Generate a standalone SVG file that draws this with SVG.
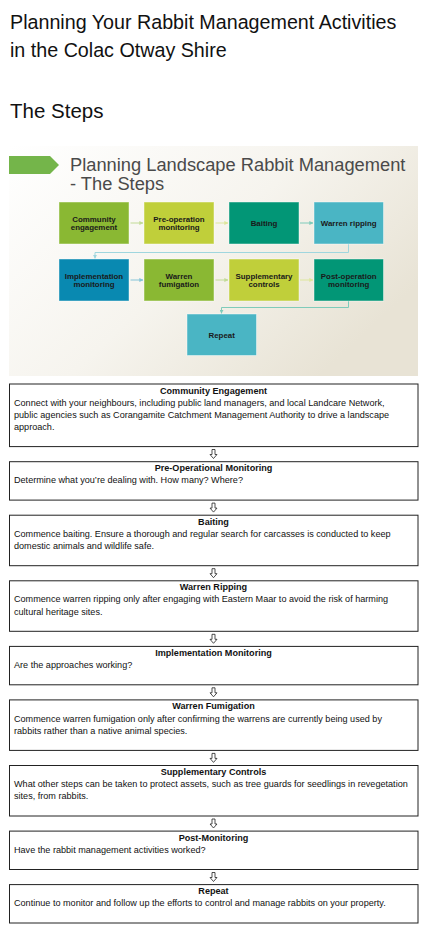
<svg xmlns="http://www.w3.org/2000/svg" xmlns:xlink="http://www.w3.org/1999/xlink" width="430" height="949" viewBox="0 0 430 949">
<style>
.h1{font-family:"Liberation Sans",Arial,sans-serif;font-size:19.7px;fill:#111}
.h2{font-family:"Liberation Sans",Arial,sans-serif;font-size:20.5px;fill:#111}
.st{font-family:"Liberation Sans",Arial,sans-serif;font-size:18.3px;fill:#4a4a4a}
.nl{font-family:"Liberation Sans",Arial,sans-serif;font-size:7.9px;font-weight:bold;fill:#1a1a1a;text-anchor:middle}
.bt{font-family:"Liberation Sans",Arial,sans-serif;font-size:9.1px;font-weight:bold;fill:#111;text-anchor:middle}
.bd{font-family:"Liberation Sans",Arial,sans-serif;font-size:9.1px;fill:#111}
.box{fill:#fff;stroke:#222;stroke-width:1}
.sb{stroke:#ffffff;stroke-opacity:0.45;stroke-width:1}
.cn{fill:none;stroke-width:1}
</style>
<defs>
<linearGradient id="bg" x1="0" y1="0" x2="1" y2="0.6">
<stop offset="0" stop-color="#ffffff"/>
<stop offset="0.55" stop-color="#f6f4ee"/>
<stop offset="1" stop-color="#e8e3d5"/>
</linearGradient>
<marker id="mg" viewBox="0 0 6 6" refX="5.5" refY="3" markerWidth="4" markerHeight="4" markerUnits="userSpaceOnUse" orient="auto"><path d="M0,0L6,3L0,6z" fill="#c2db96"/></marker>
<marker id="my" viewBox="0 0 6 6" refX="5.5" refY="3" markerWidth="4" markerHeight="4" markerUnits="userSpaceOnUse" orient="auto"><path d="M0,0L6,3L0,6z" fill="#dde69c"/></marker>
<marker id="mt" viewBox="0 0 6 6" refX="5.5" refY="3" markerWidth="4" markerHeight="4" markerUnits="userSpaceOnUse" orient="auto"><path d="M0,0L6,3L0,6z" fill="#7fcbba"/></marker>
<marker id="ml" viewBox="0 0 6 6" refX="5.5" refY="3" markerWidth="4" markerHeight="4" markerUnits="userSpaceOnUse" orient="auto"><path d="M0,0L6,3L0,6z" fill="#9fd6de"/></marker>
<marker id="mb" viewBox="0 0 6 6" refX="5.5" refY="3" markerWidth="4" markerHeight="4" markerUnits="userSpaceOnUse" orient="auto"><path d="M0,0L6,3L0,6z" fill="#84c4d8"/></marker>
<path id="darr" d="M-1.5,-4.5H1.5V0.5H3.5L0,4.5L-3.5,0.5H-1.5Z" fill="#fff" stroke="#222" stroke-width="0.8" stroke-linejoin="miter"/>
</defs>

<g id="heading">
<text class="h1" x="10" y="29">Planning Your Rabbit Management Activities</text>
<text class="h1" x="10" y="57">in the Colac Otway Shire</text>
<text class="h2" x="10" y="118">The Steps</text>
</g>

<g id="slide">
<rect x="9" y="146" width="409" height="230" fill="url(#bg)"/>
<polygon points="9,156 50,156 59,165 50,174 9,174" fill="#74b54a"/>
<text class="st" x="70" y="171">Planning Landscape Rabbit Management</text>
<text class="st" x="70" y="190">- The Steps</text>
</g>

<g id="slide-connectors">
<line class="cn" x1="130.5" y1="223" x2="143" y2="223" stroke="#c2db96" marker-end="url(#mg)"/>
<line class="cn" x1="215.5" y1="223" x2="228" y2="223" stroke="#dde69c" marker-end="url(#my)"/>
<line class="cn" x1="300" y1="223" x2="313" y2="223" stroke="#7fcbba" marker-end="url(#mt)"/>
<polyline class="cn" points="348.5,244 348.5,252.5 95,252.5 95,258.5" stroke="#9fd6de" marker-end="url(#ml)"/>
<line class="cn" x1="130.5" y1="280" x2="143" y2="280" stroke="#84c4d8" marker-end="url(#mb)"/>
<line class="cn" x1="215.5" y1="280" x2="228" y2="280" stroke="#c2db96" marker-end="url(#mg)"/>
<line class="cn" x1="300" y1="280" x2="313" y2="280" stroke="#dde69c" marker-end="url(#my)"/>
<polyline class="cn" points="348.5,301 348.5,307.5 221.5,307.5 221.5,313.5" stroke="#7fcbba" marker-end="url(#mt)"/>
</g>

<g id="s1"><rect class="sb" x="59" y="202" width="70" height="42" fill="#8ab833"/><text class="nl" x="94" y="221.5">Community</text><text class="nl" x="94" y="230.2">engagement</text></g>
<g id="s2"><rect class="sb" x="144" y="202" width="70" height="42" fill="#c0cf3a"/><text class="nl" x="179" y="221.5">Pre-operation</text><text class="nl" x="179" y="230.2">monitoring</text></g>
<g id="s3"><rect class="sb" x="229" y="202" width="70" height="42" fill="#029676"/><text class="nl" x="264" y="225.5">Baiting</text></g>
<g id="s4"><rect class="sb" x="314" y="202" width="69.5" height="42" fill="#4ab5c4"/><text class="nl" x="348.7" y="225.5">Warren ripping</text></g>
<g id="s5"><rect class="sb" x="59" y="259" width="70" height="42" fill="#0989b1"/><text class="nl" x="94" y="278.5">Implementation</text><text class="nl" x="94" y="287.2">monitoring</text></g>
<g id="s6"><rect class="sb" x="144" y="259" width="70" height="42" fill="#8ab833"/><text class="nl" x="179" y="278.5">Warren</text><text class="nl" x="179" y="287.2">fumigation</text></g>
<g id="s7"><rect class="sb" x="229" y="259" width="70" height="42" fill="#c0cf3a"/><text class="nl" x="264" y="278.5">Supplementary</text><text class="nl" x="264" y="287.2">controls</text></g>
<g id="s8"><rect class="sb" x="314" y="259" width="69.5" height="42" fill="#029676"/><text class="nl" x="348.7" y="278.5">Post-operation</text><text class="nl" x="348.7" y="287.2">monitoring</text></g>
<g id="s9"><rect class="sb" x="187" y="314" width="69.5" height="41.5" fill="#4ab5c4"/><text class="nl" x="221.7" y="337.5">Repeat</text></g>

<g id="connectors">
<use xlink:href="#darr" x="213.5" y="454"/>
<use xlink:href="#darr" x="213.5" y="507.6"/>
<use xlink:href="#darr" x="213.5" y="573.2"/>
<use xlink:href="#darr" x="213.5" y="638.8"/>
<use xlink:href="#darr" x="213.5" y="692.3"/>
<use xlink:href="#darr" x="213.5" y="757.9"/>
<use xlink:href="#darr" x="213.5" y="823.5"/>
<use xlink:href="#darr" x="213.5" y="877"/>
</g>

<g id="b1"><rect class="box" x="9.5" y="384" width="408.5" height="62.6"/>
<text class="bt" x="213.5" y="393.5">Community Engagement</text>
<text class="bd" x="14" y="405.6">Connect with your neighbours, including public land managers, and local Landcare Network,</text>
<text class="bd" x="14" y="417.7">public agencies such as Corangamite Catchment Management Authority to drive a landscape</text>
<text class="bd" x="14" y="429.9">approach.</text></g>

<g id="b2"><rect class="box" x="9.5" y="461.7" width="408.5" height="38.4"/>
<text class="bt" x="213.5" y="471.2">Pre-Operational Monitoring</text>
<text class="bd" x="14" y="483.3">Determine what you’re dealing with. How many? Where?</text></g>

<g id="b3"><rect class="box" x="9.5" y="515.2" width="408.5" height="50.5"/>
<text class="bt" x="213.5" y="524.7">Baiting</text>
<text class="bd" x="14" y="536.8">Commence baiting. Ensure a thorough and regular search for carcasses is conducted to keep</text>
<text class="bd" x="14" y="548.9">domestic animals and wildlife safe.</text></g>

<g id="b4"><rect class="box" x="9.5" y="580.8" width="408.5" height="50.5"/>
<text class="bt" x="213.5" y="590.3">Warren Ripping</text>
<text class="bd" x="14" y="602.4">Commence warren ripping only after engaging with Eastern Maar to avoid the risk of harming</text>
<text class="bd" x="14" y="614.5">cultural heritage sites.</text></g>

<g id="b5"><rect class="box" x="9.5" y="646.4" width="408.5" height="38.4"/>
<text class="bt" x="213.5" y="655.9">Implementation Monitoring</text>
<text class="bd" x="14" y="668">Are the approaches working?</text></g>

<g id="b6"><rect class="box" x="9.5" y="699.9" width="408.5" height="50.5"/>
<text class="bt" x="213.5" y="709.4">Warren Fumigation</text>
<text class="bd" x="14" y="721.5">Commence warren fumigation only after confirming the warrens are currently being used by</text>
<text class="bd" x="14" y="733.6">rabbits rather than a native animal species.</text></g>

<g id="b7"><rect class="box" x="9.5" y="765.5" width="408.5" height="50.5"/>
<text class="bt" x="213.5" y="775">Supplementary Controls</text>
<text class="bd" x="14" y="787.1">What other steps can be taken to protect assets, such as tree guards for seedlings in revegetation</text>
<text class="bd" x="14" y="799.2">sites, from rabbits.</text></g>

<g id="b8"><rect class="box" x="9.5" y="831.1" width="408.5" height="38.4"/>
<text class="bt" x="213.5" y="840.6">Post-Monitoring</text>
<text class="bd" x="14" y="852.7">Have the rabbit management activities worked?</text></g>

<g id="b9"><rect class="box" x="9.5" y="884.6" width="408.5" height="38.4"/>
<text class="bt" x="213.5" y="894.1">Repeat</text>
<text class="bd" x="14" y="906.2">Continue to monitor and follow up the efforts to control and manage rabbits on your property.</text></g>
</svg>
